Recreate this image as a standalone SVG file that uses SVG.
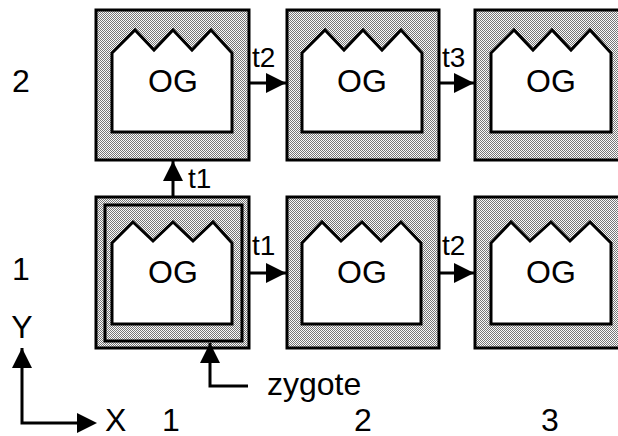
<svg xmlns="http://www.w3.org/2000/svg" width="618" height="436" viewBox="0 0 618 436">
  <defs>
    <pattern id="dots" patternUnits="userSpaceOnUse" width="2" height="2">
      <rect width="2" height="2" fill="#fafafa"/>
      <rect x="0" y="0" width="1" height="1" fill="#767676"/>
      <rect x="1" y="1" width="1" height="1" fill="#767676"/>
    </pattern>
    <marker id="head" viewBox="0 0 20 20" refX="20" refY="10" markerWidth="20" markerHeight="20" markerUnits="userSpaceOnUse" orient="auto">
      <path d="M0,0 L20,10 L0,20 Z" fill="#000"/>
    </marker>
  </defs>
  <style>
    .cell { fill: url(#dots); stroke: #000; stroke-width: 3; }
    .og { fill: #fff; stroke: #000; stroke-width: 3; stroke-linejoin: miter; }
    .zy { fill: none; stroke: #000; stroke-width: 3; }
    .lbl { font-family: "Liberation Sans", Arial, sans-serif; font-size: 32px; fill: #000; }
    .mid { text-anchor: middle; }
    .t { font-family: "Liberation Sans", Arial, sans-serif; font-size: 28px; fill: #000; }
    .link { fill: none; stroke: #000; stroke-width: 3; marker-end: url(#head); }
  </style>

  <!-- row 2 -->
  <g id="cell-1-2">
    <rect class="cell" x="96" y="10" width="153" height="150"/>
    <path class="og" d="M112,132 L112,53 L135,30 L154,50 L173,30 L192,50 L211,30 L232,53 L232,132 Z"/>
    <text class="lbl mid" x="173" y="92">OG</text>
  </g>
  <g id="cell-2-2">
    <rect class="cell" x="287" y="10" width="152" height="150"/>
    <path class="og" d="M302,132 L302,53 L325,30 L344,50 L363,30 L382,50 L401,30 L422,53 L422,132 Z"/>
    <text class="lbl mid" x="362" y="92">OG</text>
  </g>
  <g id="cell-3-2">
    <rect class="cell" x="475" y="10" width="153" height="150"/>
    <path class="og" d="M491,132 L491,53 L514,30 L533,50 L552,30 L571,50 L590,30 L611,53 L611,132 Z"/>
    <text class="lbl mid" x="551" y="92">OG</text>
  </g>

  <!-- row 1 -->
  <g id="cell-1-1">
    <rect class="cell" x="96" y="197" width="153" height="151"/>
    <rect id="zygote" class="zy" x="105" y="205" width="137" height="136"/>
    <path class="og" d="M112,324 L112,243 L133,222 L153,241 L173,222 L193,241 L213,222 L232,243 L232,324 Z"/>
    <text class="lbl mid" x="173" y="283">OG</text>
  </g>
  <g id="cell-2-1">
    <rect class="cell" x="287" y="197" width="152" height="151"/>
    <path class="og" d="M302,324 L302,243 L322,222 L341,241 L362,222 L381,241 L401,222 L421,243 L421,324 Z"/>
    <text class="lbl mid" x="362" y="283">OG</text>
  </g>
  <g id="cell-3-1">
    <rect class="cell" x="475" y="197" width="153" height="151"/>
    <path class="og" d="M491,324 L491,243 L511,222 L530,241 L551,222 L570,241 L590,222 L611,243 L611,324 Z"/>
    <text class="lbl mid" x="551" y="283">OG</text>
  </g>

  <!-- connectors -->
  <g id="connectors">
    <line class="link" x1="173" y1="197" x2="173" y2="161"/>
    <line class="link" x1="249" y1="83" x2="286" y2="83"/>
    <line class="link" x1="439" y1="83" x2="474" y2="83"/>
    <line class="link" x1="249" y1="273" x2="286" y2="273"/>
    <line class="link" x1="439" y1="273" x2="474" y2="273"/>
    <path class="link" d="M248,386 L210,386 L210,343"/>
    <path class="link" d="M78,423 L22,423 L22,348"/>
    <path d="M97,423 L77,413 L77,433 Z" fill="#000"/>
  </g>

  <!-- transition labels and axes -->
  <g id="labels">
    <text class="t" x="252" y="67">t2</text>
    <text class="t" x="442" y="67">t3</text>
    <text class="t" x="252" y="255">t1</text>
    <text class="t" x="442" y="255">t2</text>
    <text class="t" x="188" y="188">t1</text>
    <text class="lbl" x="267" y="395">zygote</text>
    <text class="lbl mid" x="21" y="92">2</text>
    <text class="lbl mid" x="21" y="280">1</text>
    <text class="lbl mid" x="22" y="338">Y</text>
    <text class="lbl" x="105" y="431">X</text>
    <text class="lbl mid" x="171" y="431">1</text>
    <text class="lbl mid" x="363" y="431">2</text>
    <text class="lbl mid" x="550" y="431">3</text>
  </g>
</svg>
